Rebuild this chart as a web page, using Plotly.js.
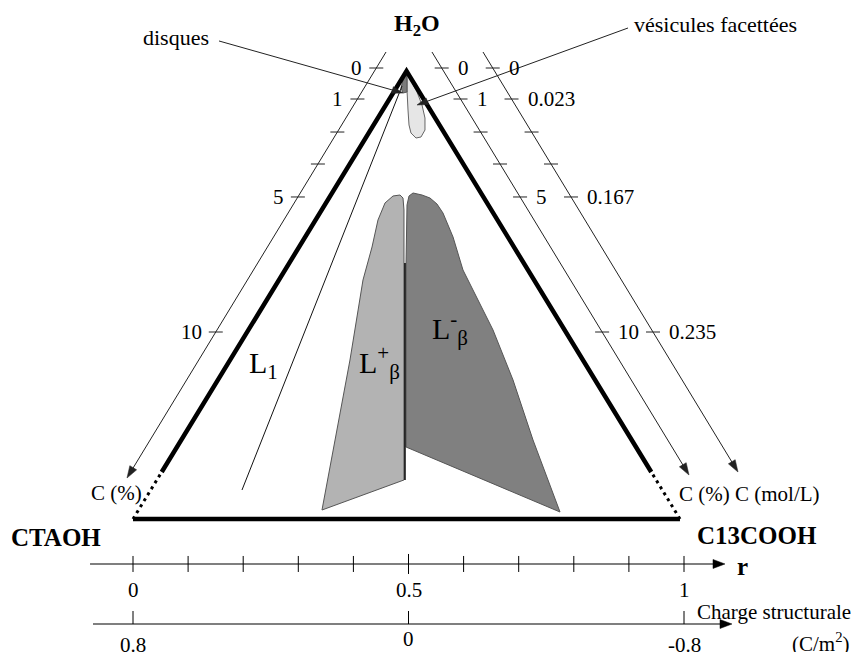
<!DOCTYPE html>
<html><head><meta charset="utf-8">
<script src="https://cdn.plot.ly/plotly-3.0.1.min.js"></script>
<style>html,body{margin:0;padding:0;background:#fff}</style>
</head><body><div id="chart" style="width:865px;height:652px"></div>
<script>
// ---------------- data ----------------
// r : composition ratio axis (0 = CTAOH, 1 = C13COOH)
// h : relative height inside the diagram (0 = base line, 1 = H2O apex)
const rTicks = [0, 0.1, 0.2, 0.3, 0.4, 0.5, 0.6, 0.7, 0.8, 0.9, 1];
const rLabelVals = [0, 0.5, 1];
const rLabelText = ['0', '0.5', '1'];
const chargeTickVals = [0, 0.5, 1];
const chargeLabelText = ['0.8', '0', '-0.8'];

const sideTickH = [1.0067, 0.9375, 0.8638, 0.7924, 0.7188, 0.4174];
const leftPctText = ['0', '1', '', '', '5', '10'];
const rightPctText = ['0', '1', '', '', '5', '10'];
const rightMolText = ['0', '0.023', '', '', '0.167', '0.235'];

const triangleR = [0, 0.4964, 0.9927];
const triangleH = [0, 1, 0];
const solidEndH = 0.105;           // height where the sides become dotted

const L1BoundaryR = [0.4882, 0.1978];
const L1BoundaryH = [0.9665, 0.0647];

const LbetaPlusR = [0.3430, 0.3938, 0.4174, 0.4338, 0.4446, 0.4574, 0.4719, 0.4846, 0.4900, 0.4918, 0.4918, 0.3430];
const LbetaPlusH = [0.0201, 0.3549, 0.5335, 0.6071, 0.6674, 0.7054, 0.7210, 0.7232, 0.7165, 0.6897, 0.0871, 0.0201];

const LbetaMinusR = [0.4955, 0.4955, 0.4973, 0.5009, 0.5082, 0.5245, 0.5390, 0.5517, 0.5626, 0.5808, 0.5989, 0.6261, 0.6534, 0.6897, 0.7260, 0.7750, 0.4955];
const LbetaMinusH = [0.1607, 0.5670, 0.7009, 0.7210, 0.7277, 0.7232, 0.7165, 0.7031, 0.6830, 0.6295, 0.5558, 0.4888, 0.4219, 0.3103, 0.1763, 0.0156, 0.1607];

const dividerR = [0.4936, 0.4936];
const dividerH = [0.5714, 0.0871];

const vesiclesR = [0.4973, 0.4973, 0.4991, 0.5009, 0.5045, 0.5136, 0.5227, 0.5299, 0.5299, 0.5245, 0.5154, 0.5045, 0.4973];
const vesiclesH = [0.9955, 0.9576, 0.9129, 0.8795, 0.8616, 0.8504, 0.8527, 0.8683, 0.8951, 0.9241, 0.9531, 0.9799, 0.9955];

const disksR = [0.4955, 0.4900, 0.4864, 0.4900, 0.4973, 0.4973, 0.4955];
const disksH = [0.9978, 0.9799, 0.9621, 0.9509, 0.9531, 0.9799, 0.9978];

const leftAxisR = [0.4592, -0.0109], leftAxisH = [1.0424, 0.0915];
const pctAxisR = [0.5426, 1.0091], pctAxisH = [1.0424, 0.0982];
const molAxisR = [0.6352, 1.0980], molAxisH = [1.0424, 0.1049];

const rAxisH = -0.1004, rAxisSpan = [-0.078, 1.0744];
const chargeAxisH = -0.2344, chargeAxisSpan = [-0.0726, 1.0871];

const disksArrow = {tailR: 0.1561, tailH: 1.0670, tipR: 0.4900, tipH: 0.9509};
const vesArrow = {tailR: 0.8984, tailH: 1.0960, tipR: 0.5154, tipH: 0.9241};

// ---------------- drawing ----------------
const SR = 551, SH = 448;           // pixels per data unit (x, y)
const PX_R = 1 / SR, PX_H = 1 / SH;
const SERIF = 'Liberation Serif, Times New Roman, serif';
const traces = [];
const ann = [];

function along(aR, aH, h) {
  const t = (h - aH[0]) / (aH[1] - aH[0]);
  return aR[0] + t * (aR[1] - aR[0]);
}
function line(x, y, color, width, dash) {
  traces.push({type: 'scatter', mode: 'lines', x: x, y: y, hoverinfo: 'skip',
    line: {color: color, width: width, dash: dash || 'solid'}});
}
function poly(x, y, fill, lc, lw) {
  traces.push({type: 'scatter', mode: 'lines', x: x, y: y, fill: 'toself', fillcolor: fill,
    hoverinfo: 'skip', line: {color: lc, width: lw === undefined ? 1 : lw}});
}
function txt(x, y, text, size, opts) {
  ann.push(Object.assign({x: x, y: y, xref: 'x', yref: 'y', text: text, showarrow: false,
    font: {family: SERIF, size: size, color: '#000'}, xanchor: 'center', yanchor: 'middle'}, opts || {}));
}
// line with a filled arrow head, head size given in pixels
function arrow(tailR, tailH, tipR, tipH, w, c, L, hw) {
  const X0 = tailR * SR, Y0 = tailH * SH, X1 = tipR * SR, Y1 = tipH * SH;
  const len = Math.hypot(X1 - X0, Y1 - Y0);
  const dx = (X1 - X0) / len, dy = (Y1 - Y0) / len;
  const bx = X1 - L * dx, by = Y1 - L * dy;
  const nx = -dy, ny = dx;
  line([tailR, (X1 - (L - 2) * dx) / SR], [tailH, (Y1 - (L - 2) * dy) / SH], c, w);
  poly([tipR, (bx + hw * nx) / SR, (bx - hw * nx) / SR, tipR],
       [tipH, (by + hw * ny) / SH, (by - hw * ny) / SH, tipH], c, c, 0.5);
}

// phase regions
poly(LbetaPlusR, LbetaPlusH, '#b3b3b3', '#555');
poly(LbetaMinusR, LbetaMinusH, '#808080', '#555');
line(dividerR, dividerH, '#000', 1.5);
poly(vesiclesR, vesiclesH, '#e6e6e6', '#666');
poly(disksR, disksH, '#7a7a7a', '#555');
line(L1BoundaryR, L1BoundaryH, '#111', 1);

// triangle
const tL = (solidEndH - triangleH[0]) / (triangleH[1] - triangleH[0]);
const leftSolidR = triangleR[0] + tL * (triangleR[1] - triangleR[0]);
const rightSolidR = triangleR[2] + tL * (triangleR[1] - triangleR[2]);
line([leftSolidR, triangleR[1], rightSolidR], [solidEndH, triangleH[1], solidEndH], '#000', 4.5);
line([triangleR[0], leftSolidR], [triangleH[0], solidEndH], '#000', 3, '3px,4px');
line([triangleR[2], rightSolidR], [triangleH[2], solidEndH], '#000', 3, '3px,4px');
line([triangleR[0], triangleR[2]], [triangleH[0], triangleH[2]], '#000', 4.5);

// side concentration axes
const sideAxes = [
  {R: leftAxisR, H: leftAxisH, labels: leftPctText, side: -1},
  {R: pctAxisR, H: pctAxisH, labels: rightPctText, side: 1},
  {R: molAxisR, H: molAxisH, labels: rightMolText, side: 1}
];
sideAxes.forEach(a => {
  arrow(a.R[0], a.H[0], a.R[1], a.H[1], 1, '#222', 12, 4);
  const tx = [], ty = [];
  sideTickH.forEach((h, i) => {
    const x = along(a.R, a.H, h);
    tx.push(x - 7 * PX_R, x + 7 * PX_R, null);
    ty.push(h, h, null);
    if (a.labels[i]) {
      txt(x, h, a.labels[i], 21, a.side < 0
        ? {xanchor: 'right', xshift: -12}
        : {xanchor: 'left', xshift: 14});
    }
  });
  line(tx, ty, '#222', 1);
});

// r axis
arrow(rAxisSpan[0], rAxisH, rAxisSpan[1], rAxisH, 1.2, '#000', 12, 4.5);
{
  const tx = [], ty = [];
  rTicks.forEach(v => {
    const half = (v === 0.5 ? 10 : 8) * PX_H;
    tx.push(v, v, null); ty.push(rAxisH - half, rAxisH + half, null);
  });
  line(tx, ty, '#000', 1);
  rLabelVals.forEach((v, i) => txt(v, rAxisH - 26 * PX_H, rLabelText[i], 21));
}
// charge axis
arrow(chargeAxisSpan[0], chargeAxisH, chargeAxisSpan[1], chargeAxisH, 1.2, '#000', 12, 4.5);
{
  const tx = [], ty = [];
  chargeTickVals.forEach(v => { tx.push(v, v, null); ty.push(chargeAxisH, chargeAxisH + 13 * PX_H, null); });
  line(tx, ty, '#000', 1);
  chargeTickVals.forEach((v, i) => txt(v, chargeAxisH - 21 * PX_H, chargeLabelText[i], 21,
    {yshift: v === 0.5 ? 6 : 0}));
}

// pointer arrows
arrow(disksArrow.tailR, disksArrow.tailH, disksArrow.tipR, disksArrow.tipH, 1, '#222', 11, 3.5);
arrow(vesArrow.tailR, vesArrow.tailH, vesArrow.tipR, vesArrow.tipH, 1, '#222', 11, 3.5);

// text labels
txt(disksArrow.tailR, disksArrow.tailH, 'disques', 22, {xanchor: 'right', xshift: -8, yshift: 3});
txt(vesArrow.tailR, vesArrow.tailH, 'vésicules facettées', 22, {xanchor: 'left', xshift: 4, yshift: 3});
txt(triangleR[1], triangleH[1], '<b>H<sub>2</sub>O</b>', 24, {xshift: 10, yshift: 46});
txt(triangleR[0], triangleH[0], '<b>CTAOH</b>', 25, {xanchor: 'right', xshift: -30, yshift: -18});
txt(triangleR[2], triangleH[2], '<b>C13COOH</b>', 25, {xanchor: 'left', xshift: 15, yshift: -16});
txt(leftAxisR[1], leftAxisH[1], 'C (%)', 21, {xanchor: 'left', xshift: -38, yshift: -15});
txt(pctAxisR[1], pctAxisH[1], 'C (%)', 21, {xanchor: 'left', xshift: -12, yshift: -19});
txt(molAxisR[1], molAxisH[1], 'C (mol/L)', 21, {xanchor: 'left', xshift: -5, yshift: -22});
txt(rAxisSpan[1], rAxisH, '<b>r</b>', 25, {xanchor: 'left', xshift: 10, yshift: -3});
txt(chargeAxisSpan[1], chargeAxisH, 'Charge structurale', 21, {xanchor: 'left', xshift: -37, yshift: 12});
txt(chargeAxisSpan[1], chargeAxisH, '(C/m<sup>2</sup>)', 21, {xanchor: 'left', xshift: 58, yshift: -18});
txt(0.2377, 0.3438, 'L<sub>1</sub>', 30);
txt(0.4065, 0.3504, 'L<sup>+</sup><sub>β</sub>', 30, {xanchor: 'left'});
txt(0.539, 0.4263, 'L<sup>-</sup><sub>β</sub>', 30, {xanchor: 'left'});

const layout = {
  width: 865, height: 652,
  margin: {l: 0, r: 0, t: 0, b: 0},
  paper_bgcolor: '#fff', plot_bgcolor: '#fff',
  showlegend: false,
  xaxis: {range: [-133 / 551, 732 / 551], visible: false, fixedrange: true},
  yaxis: {range: [-133 / 448, 519 / 448], visible: false, fixedrange: true},
  annotations: ann
};
Plotly.newPlot('chart', traces, layout, {staticPlot: true, displayModeBar: false});
</script>
</body></html>
